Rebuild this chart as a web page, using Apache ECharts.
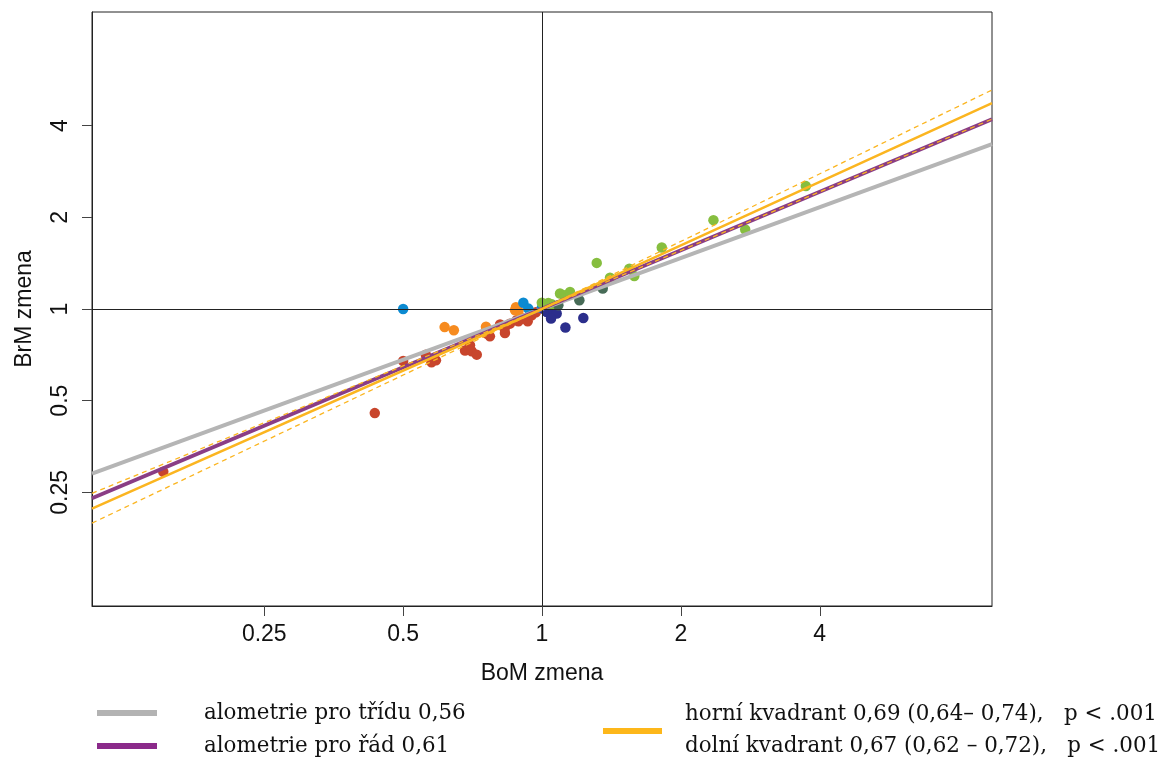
<!DOCTYPE html>
<html>
<head>
<meta charset="utf-8">
<script src="https://cdn.jsdelivr.net/npm/echarts@6/dist/echarts.min.js"></script>
<style>
html,body{margin:0;padding:0;background:#fff;}
#chart{width:1161px;height:760px;}
</style>
</head>
<body>
<div id="chart"></div>
<script>
// ---- data (BoM change, BrM change) ----
const redPoints = [
  [0.151,0.292],[0.434,0.455],[0.500,0.675],[0.560,0.707],[0.576,0.668],[0.589,0.678],
  [0.681,0.731],[0.698,0.760],[0.704,0.726],[0.722,0.708],[0.759,0.830],[0.771,0.813],
  [0.811,0.890],[0.830,0.862],[0.831,0.834],[0.852,0.895],[0.881,0.918],[0.889,0.911],
  [0.911,0.930],[0.931,0.911],[0.950,0.953],[0.970,0.975]
];
const orangePoints = [
  [0.615,0.872],[0.644,0.851],[0.756,0.874],[0.874,0.990],[0.889,0.985],[0.878,1.013]
];
const bluePoints = [
  [0.500,1.000],[0.911,1.048],[0.934,1.003],[0.999,1.008]
];
const navyPoints = [
  [1.010,1.000],[1.024,0.977],[1.058,0.977],[1.076,0.966],[1.046,0.930],[1.124,0.869],[1.229,0.934]
];
const greenPoints = [
  [0.999,1.048],[1.032,1.047],[1.050,1.036],[1.094,1.124],[1.116,1.110],[1.150,1.137],
  [1.314,1.417],[1.404,1.267],[1.546,1.356],[1.585,1.284],[1.818,1.592],[2.353,1.958],
  [2.757,1.825],[3.732,2.533]
];
const slatePoints = [
  [1.085,1.028],[1.205,1.068],[1.354,1.167]
];
// regression lines (end points / break at 1,1)
const classLine = [[0.1058,0.288],[9.45,3.48]];
const orderLine = [[0.1058,0.239],[9.45,4.20]];
const quadrantFit = [[0.1058,0.221],[1,1],[9.45,4.74]];
const quadrantCiHigh = [[0.1058,0.248],[1,1],[9.45,5.24]];
const quadrantCiLow = [[0.1058,0.198],[1,1],[9.45,4.20]];
// ticks
const tickValues = [0.25, 0.5, 1, 2, 4];
const tickLabels = ['0.25', '0.5', '1', '2', '4'];
const axisRange = [0.1058, 9.45];
const xName = 'BoM zmena';
const yName = 'BrM zmena';
const legendLeft = ['alometrie pro třídu 0,56', 'alometrie pro řád 0,61'];
const legendRight = ['horní kvadrant 0,69 (0,64– 0,74),   p < .001', 'dolní kvadrant 0,67 (0,62 – 0,72),   p < .001'];

// ---- build ----
const L = v => Math.log2(v);
const toLog = pts => pts.map(p => [L(p[0]), L(p[1])]);
const tickExp = tickValues.map(L);
const labelOf = v => {
  const i = tickExp.findIndex(t => Math.abs(t - v) < 1e-6);
  return i >= 0 ? tickLabels[i] : '';
};
const axisFont = {fontFamily: 'Liberation Sans', fontSize: 23, color: '#111'};
const legendFont = 'DejaVu Serif';
const legendSize = 21.4;

function axis(isY) {
  return {
    type: 'value',
    min: L(axisRange[0]),
    max: L(axisRange[1]),
    name: isY ? yName : xName,
    nameLocation: 'middle',
    nameGap: isY ? 56 : 56,
    nameTextStyle: Object.assign({}, axisFont),
    axisLine: {show: true, onZero: false, lineStyle: {color: '#222', width: 1}},
    axisTick: {show: true, length: 10, customValues: tickExp, lineStyle: {color: '#444', width: 1}},
    axisLabel: Object.assign({
      customValues: tickExp,
      formatter: labelOf,
      margin: isY ? 20 : 17,
      rotate: isY ? 90 : 0
    }, axisFont),
    splitLine: {show: false}
  };
}

function scatter(pts, color) {
  return {
    type: 'scatter', data: toLog(pts), symbolSize: 10.5, z: 2,
    itemStyle: {color: color, opacity: 1}, silent: true
  };
}
function line(pts, color, width, type, z) {
  return {
    type: 'line', data: toLog(pts), showSymbol: false, symbol: 'none', z: z, silent: true,
    lineStyle: {color: color, width: width, type: type}
  };
}

const orangeLine = '#FBB520';
const chart = echarts.init(document.getElementById('chart'), null, {renderer: 'canvas'});
chart.setOption({
  animation: false,
  backgroundColor: '#fff',
  grid: {left: 92, right: 169, top: 12, bottom: 154, show: true, borderColor: '#222', borderWidth: 1, backgroundColor: 'transparent'},
  xAxis: axis(false),
  yAxis: axis(true),
  series: [
    {
      type: 'line', data: [], silent: true, z: 1,
      markLine: {
        silent: true, symbol: 'none', animation: false,
        label: {show: false},
        lineStyle: {color: '#222', width: 1, type: 'solid'},
        data: [{xAxis: 0}, {yAxis: 0}]
      }
    },
    scatter(redPoints, '#C8452C'),
    scatter(orangePoints, '#F68B1F'),
    scatter(bluePoints, '#0B8AD1'),
    scatter(navyPoints, '#2B2E8C'),
    scatter(greenPoints, '#86BE3F'),
    scatter(slatePoints, '#476B57'),
    line(classLine, '#B5B5B5', 4, 'solid', 3),
    line(orderLine, '#8A3D85', 4, 'solid', 4),
    line(quadrantFit, orangeLine, 2.5, 'solid', 5),
    line(quadrantCiHigh, orangeLine, 1.3, [5, 4], 6),
    line(quadrantCiLow, orangeLine, 1.3, [5, 4], 6)
  ],
  graphic: [
    {type: 'line', shape: {x1: 97, y1: 713, x2: 157, y2: 713}, style: {stroke: '#B3B3B3', lineWidth: 6}},
    {type: 'line', shape: {x1: 97, y1: 746, x2: 157, y2: 746}, style: {stroke: '#8B2A8A', lineWidth: 6}},
    {type: 'line', shape: {x1: 603, y1: 731, x2: 662, y2: 731}, style: {stroke: '#FDB71A', lineWidth: 6}},
    {type: 'text', x: 204, y: 713, style: {text: legendLeft[0], fontFamily: legendFont, fontSize: legendSize, fill: '#111', verticalAlign: 'middle'}},
    {type: 'text', x: 204, y: 746, style: {text: legendLeft[1], fontFamily: legendFont, fontSize: legendSize, fill: '#111', verticalAlign: 'middle'}},
    {type: 'text', x: 685, y: 714, style: {text: legendRight[0], fontFamily: legendFont, fontSize: legendSize, fill: '#111', verticalAlign: 'middle'}},
    {type: 'text', x: 685, y: 746, style: {text: legendRight[1], fontFamily: legendFont, fontSize: legendSize, fill: '#111', verticalAlign: 'middle'}}
  ]
});
</script>
</body>
</html>
